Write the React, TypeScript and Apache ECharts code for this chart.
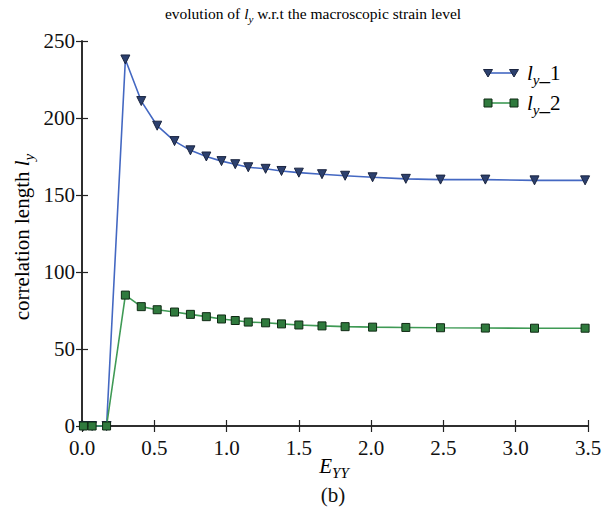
import React, { useEffect, useRef } from "react";
import * as echarts from "echarts";

const strain = [0.01, 0.07, 0.17, 0.3, 0.41, 0.52, 0.64, 0.75, 0.86, 0.965, 1.06, 1.15, 1.27, 1.38, 1.5, 1.66, 1.82, 2.01, 2.24, 2.48, 2.79, 3.13, 3.48];
const ly1 = [0, 0, 0, 238, 211, 195, 185, 179, 175, 172, 170, 168, 167, 165.6, 164.5, 163.5, 162.5, 161.5, 160.5, 160, 160, 159.5, 159.5];
const ly2 = [0, 0, 0, 85, 77.5, 75.5, 74, 72.5, 71, 69.5, 68.5, 67.5, 67, 66.3, 65.6, 65, 64.5, 64.2, 64, 63.8, 63.6, 63.5, 63.5];
const xTicks = [0, 0.5, 1.0, 1.5, 2.0, 2.5, 3.0, 3.5];
const yTicks = [0, 50, 100, 150, 200, 250];

const FONT = "Liberation Serif";
const C1_LINE = "#4468c2";
const C1_MARK = "#2c406e";
const C2_LINE = "#3f9a55";
const C2_MARK = "#2f7a3d";
const AX = "#222";

const richBase = (size: number) => ({
  n: { fontFamily: FONT, fontSize: size, lineHeight: size + 8, color: "#111" },
  i: { fontFamily: FONT, fontSize: size, lineHeight: size + 8, fontStyle: "italic", color: "#111" },
  s: { fontFamily: FONT, fontSize: Math.round(size * 0.7), lineHeight: Math.round(size * 0.7), fontStyle: "italic", color: "#111", verticalAlign: "bottom" },
});

export default function App() {
  const ref = useRef<HTMLDivElement>(null);
  useEffect(() => {
    if (!ref.current) return;
    const chart = echarts.init(ref.current, null, { renderer: "svg" });
    const axisCommon = {
      type: "value" as const,
      axisLine: { show: true, lineStyle: { color: AX, width: 1.5 } },
      axisTick: { show: true, inside: true, length: 6, lineStyle: { color: AX, width: 1.2 } },
      splitLine: { show: false },
    };
    const legendTop1 = 73;
    const legendTop2 = 103;
    const tri = (cx: number, cy: number) => ({
      type: "polygon",
      shape: { points: [[cx - 4.5, cy - 3.5], [cx + 4.5, cy - 3.5], [cx, cy + 4]] },
      style: { fill: C1_MARK, stroke: "#1b2540", lineWidth: 1 },
    });
    const sq = (cx: number, cy: number) => ({
      type: "rect",
      shape: { x: cx - 4, y: cy - 4, width: 8, height: 8 },
      style: { fill: C2_MARK, stroke: "#0f2a14", lineWidth: 1 },
    });
    chart.setOption({
      animation: false,
      backgroundColor: "#fff",
      textStyle: { fontFamily: FONT },
      grid: { left: 82, right: 25, top: 41, bottom: 89, containLabel: false },
      xAxis: [
        {
          ...axisCommon,
          position: "bottom",
          min: xTicks[0],
          max: xTicks[xTicks.length - 1],
          interval: 0.5,
          axisLabel: {
            show: true,
            margin: 11,
            fontFamily: FONT,
            fontSize: 21,
            color: "#111",
            formatter: (v: number) => v.toFixed(1),
          },
        },
        {
          ...axisCommon,
          position: "top",
          min: xTicks[0],
          max: xTicks[xTicks.length - 1],
          interval: 0.5,
          axisLabel: { show: false },
        },
      ],
      yAxis: [
        {
          ...axisCommon,
          position: "left",
          min: yTicks[0],
          max: yTicks[yTicks.length - 1],
          interval: 50,
          axisLabel: { show: true, margin: 7, fontFamily: FONT, fontSize: 21, color: "#111" },
        },
        {
          ...axisCommon,
          position: "right",
          min: yTicks[0],
          max: yTicks[yTicks.length - 1],
          interval: 50,
          axisLabel: { show: false },
        },
      ],
      series: [
        {
          type: "line",
          name: "ly_1",
          data: strain.map((x, k) => [x, ly1[k]]),
          symbol: "triangle",
          symbolRotate: 180,
          symbolSize: 9,
          showAllSymbol: true,
          lineStyle: { color: C1_LINE, width: 1.6 },
          itemStyle: { color: C1_MARK, borderColor: "#1b2540", borderWidth: 1 },
          z: 2,
        },
        {
          type: "line",
          name: "ly_2",
          data: strain.map((x, k) => [x, ly2[k]]),
          symbol: "rect",
          symbolSize: 8,
          showAllSymbol: true,
          lineStyle: { color: C2_LINE, width: 1.6 },
          itemStyle: { color: C2_MARK, borderColor: "#0f2a14", borderWidth: 1 },
          z: 3,
        },
      ],
      graphic: [
        {
          type: "text",
          x: 313,
          y: 13,
          style: {
            text: "{n|evolution of }{i|l}{s|y}{n| w.r.t the macroscopic strain level}",
            rich: richBase(15.5),
            align: "center",
            verticalAlign: "middle",
          },
        },
        {
          type: "text",
          x: 22,
          y: 237,
          rotation: Math.PI / 2,
          style: {
            text: "{n|correlation length }{i|l}{s|y}",
            rich: richBase(21),
            align: "center",
            verticalAlign: "middle",
          },
        },
        {
          type: "text",
          x: 334,
          y: 466,
          style: {
            text: "{i|E}{s|YY}",
            rich: richBase(21),
            align: "center",
            verticalAlign: "middle",
          },
        },
        {
          type: "text",
          x: 333,
          y: 495,
          style: { text: "(b)", fontFamily: FONT, fontSize: 21, fill: "#111", align: "center", verticalAlign: "middle" },
        },
        { type: "line", shape: { x1: 488, y1: legendTop1, x2: 514, y2: legendTop1 }, style: { stroke: C1_LINE, lineWidth: 1.6 } },
        tri(488, legendTop1),
        tri(514, legendTop1),
        {
          type: "text",
          x: 527,
          y: legendTop1,
          style: { text: "{i|l}{s|y}{n|_1}", rich: richBase(21), align: "left", verticalAlign: "middle" },
        },
        { type: "line", shape: { x1: 488, y1: legendTop2, x2: 514, y2: legendTop2 }, style: { stroke: C2_LINE, lineWidth: 1.6 } },
        sq(488, legendTop2),
        sq(514, legendTop2),
        {
          type: "text",
          x: 527,
          y: legendTop2,
          style: { text: "{i|l}{s|y}{n|_2}", rich: richBase(21), align: "left", verticalAlign: "middle" },
        },
      ],
    });
    return () => chart.dispose();
  }, []);
  return <div ref={ref} style={{ width: 613, height: 515, position: "absolute", left: 0, top: 0 }} />;
}
